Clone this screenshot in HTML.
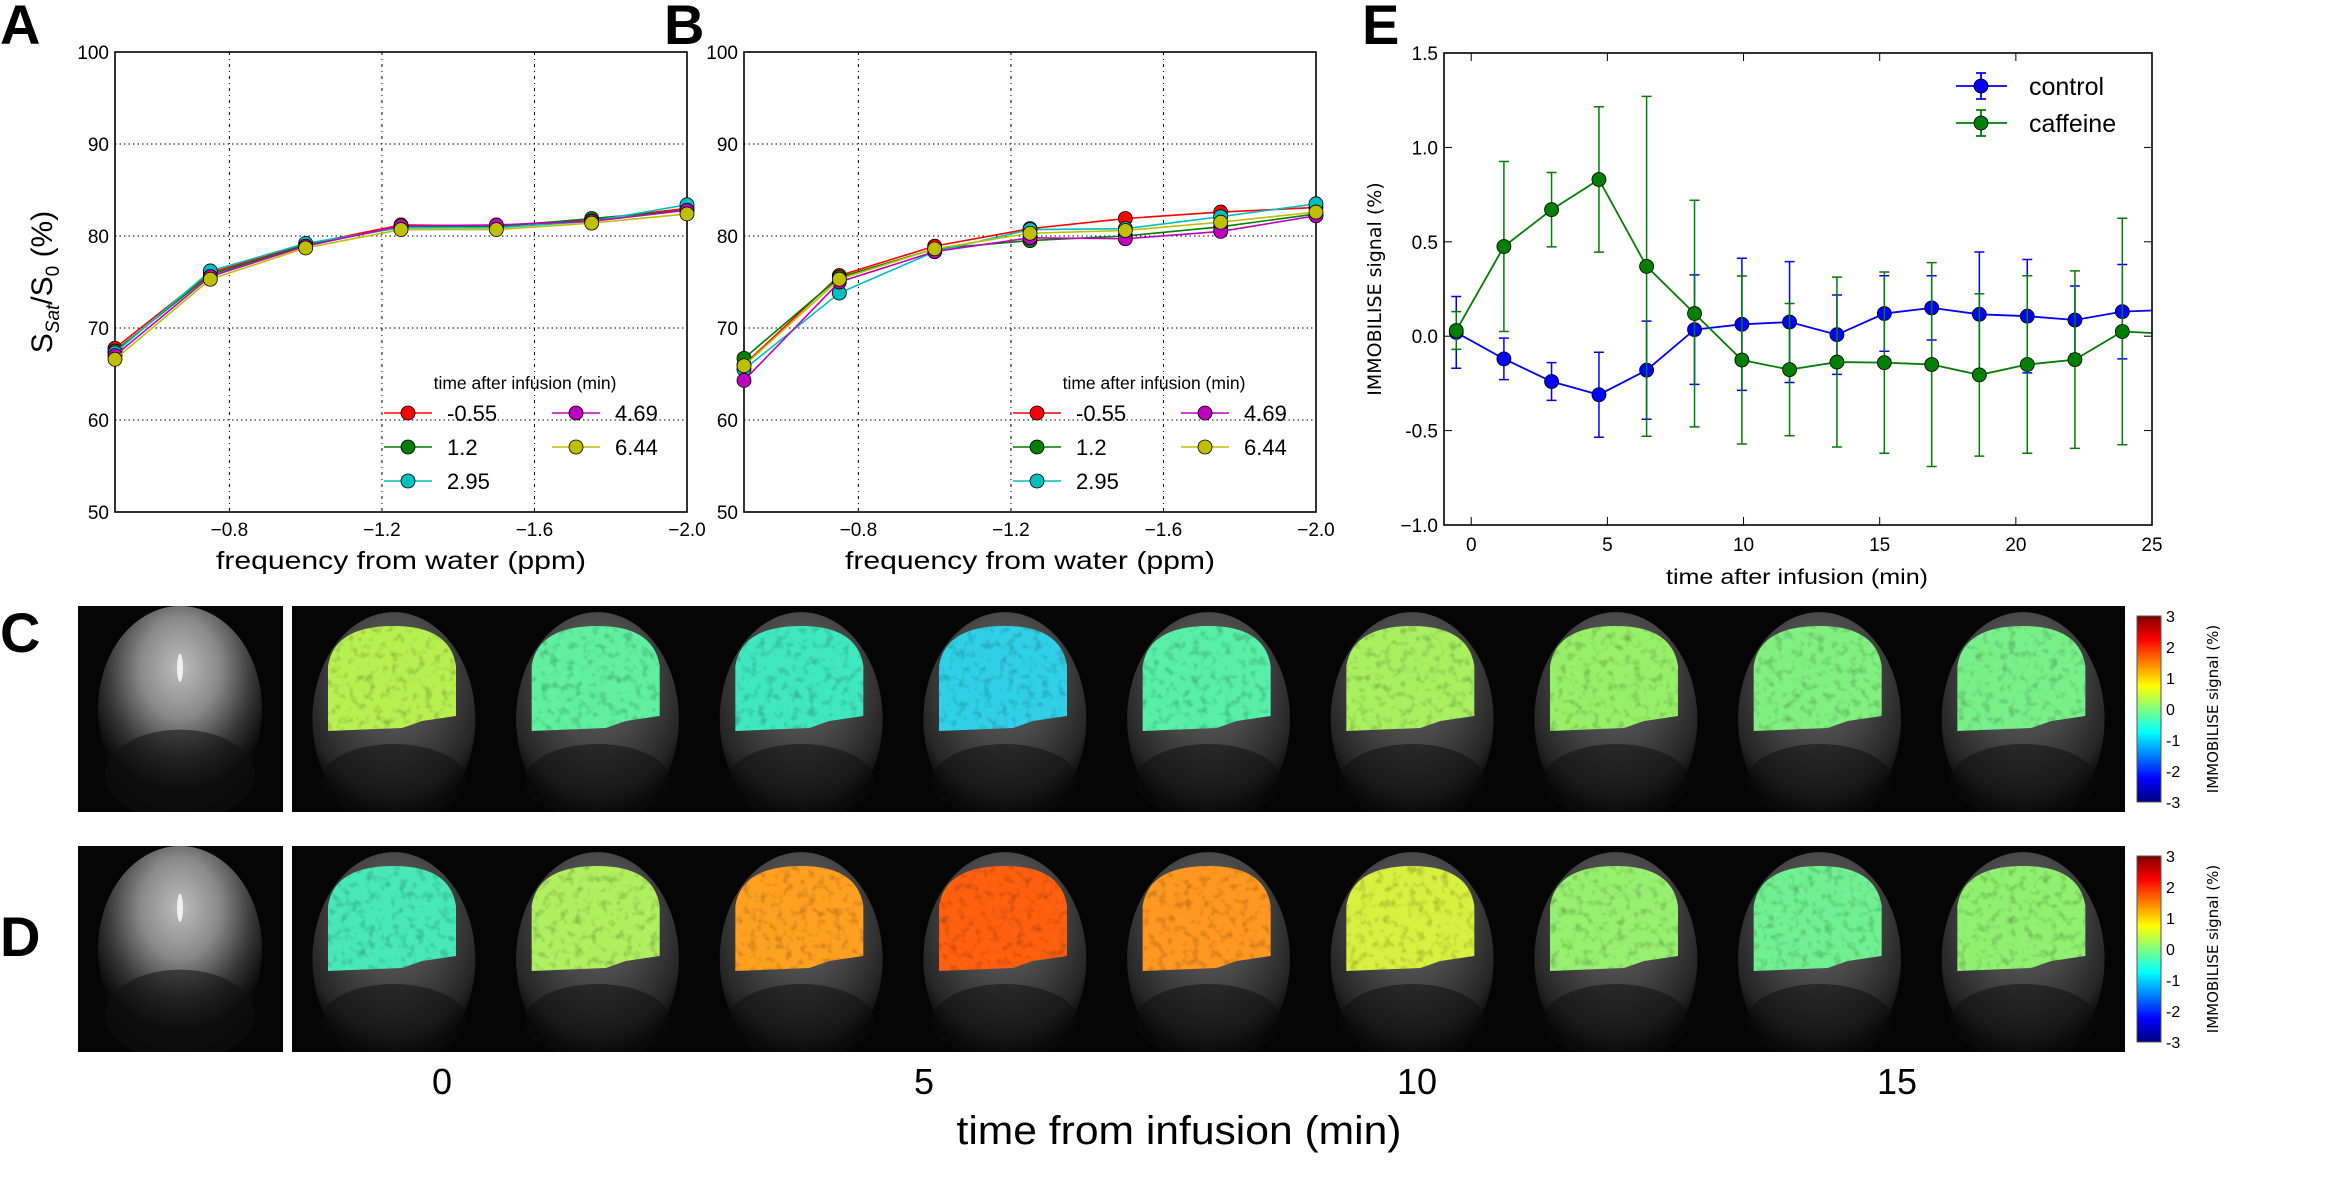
<!DOCTYPE html>
<html><head><meta charset="utf-8"><style>
html,body{margin:0;padding:0;background:#fff;}
svg{display:block;font-family:"Liberation Sans",sans-serif;}
</style></head><body>
<svg id="fig" width="2327" height="1178" viewBox="0 0 2327 1178" xmlns="http://www.w3.org/2000/svg">
<defs>
<linearGradient id="jet" x1="0" y1="1" x2="0" y2="0">
<stop offset="0" stop-color="#00007f"/><stop offset="0.125" stop-color="#0000ff"/><stop offset="0.375" stop-color="#00ffff"/><stop offset="0.5" stop-color="#7fff7f"/><stop offset="0.625" stop-color="#ffff00"/><stop offset="0.875" stop-color="#ff0000"/><stop offset="1" stop-color="#7f0000"/>
</linearGradient>
<radialGradient id="head" cx="0.5" cy="0.3" r="0.65">
<stop offset="0" stop-color="#6a6a6a"/><stop offset="0.5" stop-color="#454545"/><stop offset="0.85" stop-color="#252525"/><stop offset="1" stop-color="#080808"/>
</radialGradient>
<radialGradient id="anat" cx="0.5" cy="0.3" r="0.6">
<stop offset="0" stop-color="#bdbdbd"/><stop offset="0.4" stop-color="#8a8a8a"/><stop offset="0.75" stop-color="#353535"/><stop offset="1" stop-color="#0a0a0a"/>
</radialGradient>
<filter id="tex" x="0" y="0" width="1" height="1">
<feTurbulence type="fractalNoise" baseFrequency="0.12" numOctaves="2" seed="3" result="n"/>
<feColorMatrix in="n" type="matrix" values="0 0 0 0 0  0 0 0 0 0  0 0 0 0 0  0 0 0 1.6 -0.8" result="a"/>
<feComposite in="a" in2="SourceGraphic" operator="in"/>
</filter>
</defs>
<g id="root"></g>
</svg>
<script>
// ---------- Panel A / B data ----------
const freqs = [-0.5, -0.75, -1.0, -1.25, -1.5, -1.75, -2.0];
const seriesLabels = ["-0.55", "1.2", "2.95", "4.69", "6.44"];
const seriesColors = ["#ff0000", "#007f00", "#00bfbf", "#bf00bf", "#bfbf00"];
const aM055 = [67.8, 76.0, 79.1, 81.2, 81.1, 81.8, 83.0];
const aM12 = [67.5, 75.8, 79.0, 81.0, 81.0, 81.9, 82.8];
const aM295 = [67.3, 76.2, 79.2, 80.9, 80.9, 81.6, 83.4];
const aM469 = [67.0, 75.6, 78.9, 81.1, 81.2, 81.6, 82.8];
const aM644 = [66.6, 75.3, 78.7, 80.7, 80.7, 81.4, 82.4];
const bM055 = [66.0, 75.7, 78.9, 80.8, 81.9, 82.6, 83.1];
const bM12 = [66.7, 75.5, 78.6, 79.5, 80.0, 81.0, 82.4];
const bM295 = [65.5, 73.8, 78.3, 80.7, 80.8, 82.1, 83.5];
const bM469 = [64.3, 75.0, 78.3, 79.8, 79.7, 80.5, 82.2];
const bM644 = [65.9, 75.3, 78.6, 80.3, 80.6, 81.5, 82.6];
const abXTicks = [-0.8, -1.2, -1.6, -2.0];
const abXTickLabels = ["\u22120.8", "\u22121.2", "\u22121.6", "\u22122.0"];
const abYTicks = [50, 60, 70, 80, 90, 100];
// ---------- Panel E data ----------
const eTimes = [-0.55, 1.2, 2.95, 4.69, 6.44, 8.2, 9.94, 11.69, 13.43, 15.17, 16.91, 18.66, 20.42, 22.17, 23.91, 25.65];
const controlVals = [0.02, -0.12, -0.24, -0.31, -0.18, 0.035, 0.063, 0.075, 0.008, 0.12, 0.15, 0.116, 0.106, 0.086, 0.13, 0.14];
const controlErr = [0.19, 0.11, 0.10, 0.225, 0.26, 0.29, 0.35, 0.32, 0.21, 0.20, 0.17, 0.33, 0.30, 0.18, 0.25, 0.25];
const caffeineVals = [0.03, 0.475, 0.67, 0.83, 0.37, 0.12, -0.126, -0.177, -0.137, -0.14, -0.15, -0.205, -0.15, -0.124, 0.025, 0.012];
const caffeineErr = [0.10, 0.45, 0.197, 0.385, 0.90, 0.60, 0.445, 0.35, 0.45, 0.48, 0.54, 0.43, 0.47, 0.47, 0.60, 0.6];
const eXTicks = [0, 5, 10, 15, 20, 25];
const eYTicks = [-1.0, -0.5, 0.0, 0.5, 1.0, 1.5];
const eYTickLabels = ["\u22121.0", "-0.5", "0.0", "0.5", "1.0", "1.5"];
// ---------- Map panels ----------
const mapTimes = ["0", "5", "10", "15"];
const rowCColors = ["#b8f050", "#60f0a0", "#40e8c0", "#30d0e8", "#58f0a8", "#a8f060", "#98f068", "#80f080", "#78f088"];
const rowDColors = ["#48e8b8", "#b0f060", "#ffa020", "#ff6010", "#ff9820", "#d8f040", "#98f070", "#70f090", "#90f070"];
const cbarLabels = ["3", "2", "1", "0", "-1", "-2", "-3"];

const NS = "http://www.w3.org/2000/svg";
const root = document.getElementById("root");
function mk(tag, attrs, parent) {
  const e = document.createElementNS(NS, tag);
  for (const k in attrs) e.setAttribute(k, attrs[k]);
  (parent || root).appendChild(e);
  return e;
}
function txt(s, attrs, parent) { const e = mk("text", attrs, parent); e.textContent = s; return e; }

// ---------- Panels A and B ----------
function linePanel(px, letter, letterX, sets, name) {
  const L = px, R = px + 572, T = 52, B = 512;
  const g = mk("g", {});
  
  
  const xs = v => L + (v - (-0.5)) / (-2.0 - (-0.5)) * (R - L);
  const ys = v => B - (v - 50) / 50 * (B - T);
  const lt = txt(letter, {x: letterX, y: 44, "font-size": 56, "font-weight": "bold"}, g);
  
  
  abYTicks.forEach(v => {
    if (v > 50 && v < 100) mk("line", {x1: L, x2: R, y1: ys(v), y2: ys(v), stroke: "#000", "stroke-width": 1, "stroke-dasharray": "1.5,3"}, g);
    const t = txt(String(v), {x: L - 6, y: ys(v) + 7, "font-size": 19, "text-anchor": "end"}, g);
    
    
  });
  abXTicks.forEach((v, i) => {
    if (v > -2.0) mk("line", {x1: xs(v), x2: xs(v), y1: T, y2: B, stroke: "#000", "stroke-width": 1, "stroke-dasharray": "3,4,1,4"}, g);
    const t = txt(abXTickLabels[i], {x: xs(v), y: 536, "font-size": 19, "text-anchor": "middle"}, g);
    
    
  });
  mk("rect", {x: L, y: T, width: R - L, height: B - T, fill: "none", stroke: "#000", "stroke-width": 1.6}, g);
  sets.forEach((vals, si) => {
    const pts = vals.map((v, i) => xs(freqs[i]) + "," + ys(v)).join(" ");
    const pl = mk("polyline", {points: pts, fill: "none", stroke: seriesColors[si], "stroke-width": 1.6}, g);
    
    
    vals.forEach((v, i) => {
      const c = mk("circle", {cx: xs(freqs[i]), cy: ys(v), r: 7, fill: seriesColors[si], stroke: "#000", "stroke-width": 0.8}, g);
      
      
    });
  });
  const xl = txt("frequency from water (ppm)", {x: (L + R) / 2, y: 569, "font-size": 25, "text-anchor": "middle", textLength: 370, lengthAdjust: "spacingAndGlyphs"}, g);
  
  
  // legend
  const lg = mk("g", {}, g);
  
  
  txt("time after infusion (min)", {x: L + 410, y: 389, "font-size": 17.5, "text-anchor": "middle"}, lg);
  const pos = [[0, 0], [0, 1], [0, 2], [1, 0], [1, 1]];
  seriesLabels.forEach((s, si) => {
    const cx = L + 293 + pos[si][0] * 168, cy = 413 + pos[si][1] * 34;
    const le = mk("g", {}, lg);
    
    
    mk("line", {x1: cx - 24, x2: cx + 24, y1: cy, y2: cy, stroke: seriesColors[si], "stroke-width": 1.6}, le);
    mk("circle", {cx: cx, cy: cy, r: 7, fill: seriesColors[si], stroke: "#000", "stroke-width": 0.8}, le);
    txt(s, {x: cx + 39, y: cy + 8, "font-size": 22}, le);
  });
}
linePanel(115, "A", 0, [aM055, aM12, aM295, aM469, aM644], "panel-a-chart");
linePanel(744, "B", 664, [bM055, bM12, bM295, bM469, bM644], "panel-b-chart");
const yt = txt("", {transform: "translate(52,282) rotate(-90)", "font-size": 30, "text-anchor": "middle"});


yt.innerHTML = 'S<tspan font-size="19" font-style="italic" dy="7">Sat</tspan><tspan dy="-7">/S</tspan><tspan font-size="19" dy="7">0</tspan><tspan dy="-7"> (%)</tspan>';

// ---------- Panel E ----------
(function () {
  const L = 1444, R = 2152, T = 53, B = 525;
  const g = mk("g", {});
  
  
  const xs = v => L + (v + 1) / 26 * (R - L);
  const ys = v => B - (v + 1) / 2.5 * (B - T);
  const lt = txt("E", {x: 1362, y: 44, "font-size": 56, "font-weight": "bold"}, g);
  
  
  const cp = mk("clipPath", {id: "eclip"}, g);
  mk("rect", {x: L, y: T, width: R - L, height: B - T}, cp);
  eYTicks.forEach((v, i) => {
    mk("line", {x1: L, x2: L + 8, y1: ys(v), y2: ys(v), stroke: "#000"}, g);
    mk("line", {x1: R - 8, x2: R, y1: ys(v), y2: ys(v), stroke: "#000"}, g);
    const t = txt(eYTickLabels[i], {x: L - 6, y: ys(v) + 7, "font-size": 19, "text-anchor": "end"}, g);
    
    
  });
  eXTicks.forEach(v => {
    mk("line", {x1: xs(v), x2: xs(v), y1: B, y2: B - 8, stroke: "#000"}, g);
    mk("line", {x1: xs(v), x2: xs(v), y1: T, y2: T + 8, stroke: "#000"}, g);
    const t = txt(String(v), {x: xs(v), y: 551, "font-size": 19, "text-anchor": "middle"}, g);
    
    
  });
  function series(vals, errs, col, name) {
    const sg = mk("g", {"clip-path": "url(#eclip)"}, g);
    
    
    vals.forEach((v, i) => {
      const x = xs(eTimes[i]), y1 = ys(v + errs[i]), y2 = ys(v - errs[i]);
      const eb = mk("path", {d: `M${x},${y1}V${y2}M${x - 5},${y1}H${x + 5}M${x - 5},${y2}H${x + 5}`, stroke: col, "stroke-width": 1.5, fill: "none"}, sg);
      
      
    });
    mk("polyline", {points: vals.map((v, i) => xs(eTimes[i]) + "," + ys(v)).join(" "), fill: "none", stroke: col, "stroke-width": 1.8}, sg);
    vals.forEach((v, i) => {
      const c = mk("circle", {cx: xs(eTimes[i]), cy: ys(v), r: 7, fill: col, stroke: "#000", "stroke-width": 0.8}, sg);
      
      
    });
  }
  series(controlVals, controlErr, "#0000ff", "control");
  series(caffeineVals, caffeineErr, "#007f00", "caffeine");
  mk("rect", {x: L, y: T, width: R - L, height: B - T, fill: "none", stroke: "#000", "stroke-width": 1.6}, g);
  [["control", "#0000ff", 86], ["caffeine", "#007f00", 123]].forEach(([s, c, y]) => {
    const le = mk("g", {}, g);
    
    
    mk("path", {d: `M1956,${y}H2007M1981,${y - 13}V${y + 13}M1976,${y - 13}H1986M1976,${y + 13}H1986`, stroke: c, "stroke-width": 1.8, fill: "none"}, le);
    mk("circle", {cx: 1981, cy: y, r: 7, fill: c, stroke: "#000", "stroke-width": 0.8}, le);
    txt(s, {x: 2029, y: y + 9, "font-size": 25}, le);
  });
  const yl = txt("IMMOBILISE signal (%)", {transform: "translate(1381,289) rotate(-90)", "font-size": 19, "text-anchor": "middle", "font-family": "DejaVu Sans, sans-serif"}, g);
  
  
  const xl = txt("time after infusion (min)", {x: 1797, y: 584, "font-size": 21, "text-anchor": "middle", textLength: 262, lengthAdjust: "spacingAndGlyphs"}, g);
  
  
})();

// ---------- Map rows C and D ----------
let clipN = 0;
function clipRect(x, y, w, h, parent) {
  const id = "mclip" + (clipN++);
  const cp = mk("clipPath", {id: id}, parent);
  mk("rect", {x: x, y: y, width: w, height: h}, cp);
  return "url(#" + id + ")";
}
function mapRow(top, bot, colors, letter, letterY, name) {
  const g = mk("g", {});
  
  
  const h = bot - top;
  const lt = txt(letter, {x: 0, y: letterY, "font-size": 56, "font-weight": "bold"}, g);
  
  
  // anatomical
  const an = mk("g", {"clip-path": clipRect(78, top, 205, h, g)}, g);
  
  
  mk("rect", {x: 78, y: top, width: 205, height: h, fill: "#050505"}, an);
  mk("ellipse", {cx: 180, cy: top + h * 0.5, rx: 82, ry: h * 0.5, fill: "url(#anat)"}, an);
  mk("ellipse", {cx: 180, cy: top + h * 0.82, rx: 75, ry: h * 0.22, fill: "#111", opacity: 0.55}, an);
  mk("ellipse", {cx: 180, cy: top + h * 0.3, rx: 3, ry: 14, fill: "#fff", opacity: 0.8}, an);
  // strip
  const sx = 292, sw = 1833;
  const strip = mk("g", {"clip-path": clipRect(sx, top, sw, h, g)}, g);
  
  
  mk("rect", {x: sx, y: top, width: sw, height: h, fill: "#050505"}, strip);
  const tw = sw / colors.length;
  colors.forEach((c, i) => {
    const x = sx + i * tw;
    const b = mk("g", {}, strip);
    
    
    mk("ellipse", {cx: x + tw / 2, cy: top + h * 0.55, rx: tw * 0.4, ry: h * 0.52, fill: "url(#head)"}, b);
    mk("ellipse", {cx: x + tw / 2, cy: top + h * 0.85, rx: tw * 0.36, ry: h * 0.18, fill: "#0c0c0c", opacity: 0.5}, b);
    const d = `M${x + 36},${top + 125} L${x + 36},${top + 60} Q${x + 42},${top + 20} ${x + tw / 2},${top + 20} Q${x + 158},${top + 20} ${x + 164},${top + 60} L${x + 164},${top + 110} L${x + 130},${top + 115} L${x + 110},${top + 122} Z`;
    mk("path", {d: d, fill: c}, b);
    mk("path", {d: d, fill: "#2060e0", opacity: 0.35, filter: "url(#tex)"}, b);
  });
  // colorbar
  const cb = mk("g", {}, g);
  
  
  const ct = top + 10, cbh = h - 20;
  mk("rect", {x: 2137, y: ct, width: 24, height: cbh, fill: "url(#jet)", stroke: "#555", "stroke-width": 1}, cb);
  cbarLabels.forEach((s, i) => {
    txt(s, {x: 2166, y: ct + i * cbh / 6 + 6, "font-size": 16}, cb);
  });
  txt("IMMOBILISE signal (%)", {transform: `translate(2218,${ct + cbh / 2}) rotate(-90)`, "font-size": 15, "text-anchor": "middle", "font-family": "DejaVu Sans, sans-serif"}, cb);
}
mapRow(606, 812, rowCColors, "C", 652, "panel-c-maps");
mapRow(846, 1052, rowDColors, "D", 956, "panel-d-maps");
const tickPos = [442, 924, 1417, 1897];
mapTimes.forEach((s, i) => {
  const t = txt(s, {x: tickPos[i], y: 1094, "font-size": 36, "text-anchor": "middle"});
  
  
});
const mt = txt("time from infusion (min)", {x: 1179, y: 1144, "font-size": 40, "text-anchor": "middle", textLength: 445, lengthAdjust: "spacingAndGlyphs"});


</script>
</body></html>
